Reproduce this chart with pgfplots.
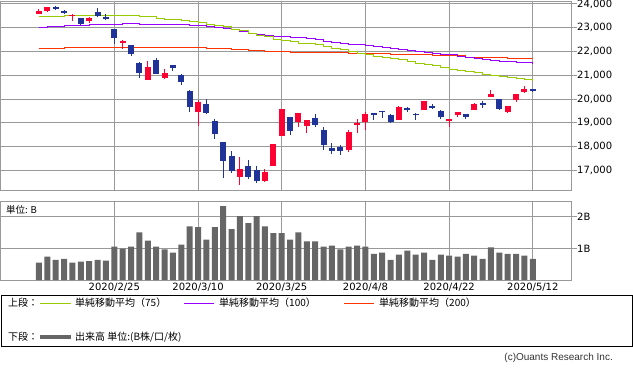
\documentclass[border=0pt]{standalone}
\usepackage{pgfplots}
\pgfplotsset{compat=1.18}
\usepackage{pgfplotstable}
\usepackage{fontspec}
\setmainfont{DejaVu Sans}
\newfontfamily\jp{Noto Sans CJK JP}
\newfontfamily\lib{Liberation Sans}
\definecolor{gridc}{HTML}{999999}
\definecolor{upred}{HTML}{FF0033}
\definecolor{dnblue}{HTML}{1F3399}
\definecolor{maG}{HTML}{99CC00}
\definecolor{maP}{HTML}{9900FF}
\definecolor{maR}{HTML}{FF3300}
\definecolor{volc}{HTML}{666666}

\pgfplotstableread{
i O H L C
0 23580 23790 23575 23700
1 23720 23875 23676 23870
4 23510 23590 23300 23550
6 23285 23455 23215 23410
10 22370 22500 22120 22455
13 20815 21600 20810 21335
15 20900 21265 20855 21085
19 19465 19960 18880 19875
24 16730 17560 16395 17055
27 16550 17055 16520 16945
28 17180 18110 17175 18105
29 18460 19580 18455 19575
31 19020 19415 18835 19410
32 18880 19120 18585 19115
37 17870 18695 17785 18600
38 18905 19160 18560 18980
39 19045 19445 18710 19370
43 19130 19705 19125 19650
46 19555 19920 19550 19915
49 19090 19160 18835 19160
50 19315 19455 19230 19455
52 19555 19845 19550 19805
54 20075 20395 20070 20225
56 19455 19720 19415 19720
57 19960 20210 19875 20210
58 20300 20560 20255 20420
}\up

\pgfplotstableread{
i O H L C
2 23885 23930 23760 23805
3 23690 23760 23580 23655
5 23410 23420 23130 23175
7 23665 23830 23440 23480
8 23455 23580 23340 23370
9 22950 22955 22330 22570
11 22275 22285 21825 21910
12 21505 21560 20900 21110
14 21645 21725 21065 21070
16 21420 21425 21195 21320
17 21010 21055 20605 20730
18 20340 20380 19465 19680
20 19790 20000 19385 19425
21 19075 19160 18330 18540
22 18190 18200 16690 17405
23 17605 17815 16885 16985
25 17180 17435 16650 16705
26 17015 17180 16480 16565
30 19245 19250 18485 18670
33 19200 19370 18825 18905
34 18700 18820 17855 18080
35 17940 18150 17700 17825
36 17980 18065 17655 17825
40 19415 19420 19130 19340
41 19500 19505 19215 19460
42 19330 19385 18990 19045
44 19620 19680 19455 19540
45 19370 19400 19120 19330
47 19720 19790 19580 19625
48 19495 19555 19175 19260
51 19370 19375 19175 19260
53 19820 19905 19625 19780
55 20000 20005 19540 19570
59 20420 20440 20310 20350
}\down

\pgfplotstableread{
i v
0 0.55
1 0.74
2 0.64
3 0.67
4 0.55
5 0.58
6 0.60
7 0.64
8 0.61
9 1.06
10 0.99
11 1.06
12 1.51
13 1.25
14 1.06
15 0.97
16 0.87
17 1.12
18 1.70
19 1.67
20 1.28
21 1.67
22 2.34
23 1.61
24 2.02
25 1.80
26 2.02
27 1.70
28 1.48
29 1.48
30 1.28
31 1.51
32 1.22
33 1.22
34 1.06
35 1.09
36 0.97
37 1.06
38 1.09
39 1.06
40 0.83
41 0.87
42 0.64
43 0.80
44 0.93
45 0.80
46 0.87
47 0.64
48 0.80
49 0.77
50 0.74
51 0.83
52 0.77
53 0.67
54 1.03
55 0.87
56 0.83
57 0.83
58 0.77
59 0.67
}\vol

\pgfplotsset{
  base/.style={
    scale only axis, width=570pt,
    xmin=-4.54, xmax=63.56,
    axis line style={draw=gridc, line width=1pt},
    grid=major, major grid style={draw=gridc, line width=1pt},
    xtick={9,19,29,39,49,59},
    xtick style={draw=none},
    ytick pos=right, yticklabel pos=right,
    ytick align=outside,
    ytick style={draw=gridc, line width=1pt},
    major tick length=6pt,
    tick label style={font=\fontsize{10}{12}\selectfont, text=black},
    yticklabel style={anchor=west, inner sep=0pt},
    /pgf/number format/assume math mode=true,
    clip=true,
  },
  candle/.style={only marks, mark=*, mark size=0pt, mark options={draw=none, fill=none},
    error bars/.cd, y dir=both, y explicit, error mark=none},
}

\begin{document}
\begin{tikzpicture}[x=1pt,y=1pt]
\useasboundingbox (0,0) rectangle (633,-372);

% ---------- price panel ----------
\begin{axis}[base, at={(1pt,-1pt)}, anchor=north west, height=189pt,
  ymin=16170, ymax=24126,
  ytick={17000,18000,...,24000},
  scaled y ticks=false,
  yticklabel style={/pgf/number format/.cd, 1000 sep={,}, assume math mode=true},
  xticklabels={\relax,\relax,\relax,\relax,\relax,\relax},
]
% moving averages
\addplot[const plot, draw=maR, line width=1pt] coordinates {
(0,22135) (3,22177) (20,22135) (23,22093) (25,22051) (27,22009) (30,21967)
(34,21938) (37,21896) (42,21853) (47,21811) (51,21756) (56,21714) (59,21714)};
\addplot[const plot, draw=maP, line width=1pt] coordinates {
(0,23019) (1,23061) (3,23103) (6,23146) (10,23188) (12,23146) (18,23103)
(19,23074) (20,23053) (21,23023) (22,22977) (23,22914) (24,22843) (25,22771)
(26,22716) (27,22670) (28,22645) (29,22624) (30,22598) (31,22569) (32,22527)
(33,22485) (34,22430) (35,22375) (36,22346) (37,22308) (38,22274) (39,22232)
(40,22190) (41,22148) (42,22106) (43,22064) (44,22022) (45,21980) (46,21950)
(47,21925) (48,21887) (49,21853) (50,21790) (51,21727) (52,21685) (53,21643)
(54,21618) (55,21588) (56,21563) (57,21538) (58,21525) (59,21517)};
\addplot[const plot, draw=maG, line width=1pt] coordinates {
(0,23453) (3,23495) (8,23524) (10,23495) (12,23453) (14,23398) (15,23356)
(17,23314) (18,23272) (19,23200) (20,23146) (21,23095) (22,23032) (23,22927)
(24,22864) (25,22779) (26,22674) (27,22611) (28,22514) (29,22464) (30,22422)
(31,22358) (32,22316) (33,22274) (34,22211) (35,22127) (36,22064) (37,21980)
(38,21917) (39,21875) (40,21790) (41,21748) (42,21706) (43,21643) (44,21559)
(45,21487) (46,21445) (47,21390) (48,21306) (49,21252) (50,21193) (51,21138)
(52,21096) (53,21041) (54,20999) (55,20957) (56,20898) (57,20864) (58,20831)
(59,20746)};
% wicks
\addplot[candle, error bar style={draw=upred, line width=1pt}]
  table[x=i, y expr={(\thisrow{H}+\thisrow{L})/2}, y error expr={(\thisrow{H}-\thisrow{L})/2}] {\up};
\addplot[candle, error bar style={draw=dnblue, line width=1pt}]
  table[x=i, y expr={(\thisrow{H}+\thisrow{L})/2}, y error expr={(\thisrow{H}-\thisrow{L})/2}] {\down};
% bodies
\addplot[candle, error bar style={draw=upred, line width=6pt, line cap=butt}]
  table[x=i, y expr={(\thisrow{O}+\thisrow{C})/2}, y error expr={max(abs(\thisrow{C}-\thisrow{O})/2,22)}] {\up};
\addplot[candle, error bar style={draw=dnblue, line width=6pt, line cap=butt}]
  table[x=i, y expr={(\thisrow{O}+\thisrow{C})/2}, y error expr={max(abs(\thisrow{C}-\thisrow{O})/2,22)}] {\down};
\end{axis}

% ---------- volume panel ----------
\begin{axis}[base, at={(1pt,-201pt)}, anchor=north west, height=79pt,
  ymin=0, ymax=2.5,
  ytick={1,2}, yticklabels={1B,2B},
  xticklabels={2020/2/25,2020/3/10,2020/3/25,2020/4/8,2020/4/22,2020/5/12},
  xticklabel style={anchor=north, inner sep=0pt, yshift=-3pt},
]
\addplot[ybar, bar width=6pt, fill=volc, draw=none] table[x=i, y=v] {\vol};
\end{axis}

\node[anchor=west, inner sep=0pt] at (6,-210) {\jp\fontsize{9.5}{11}\selectfont 単位: B};

% ---------- legend ----------
\draw[black, line width=1pt] (1,-295.5) rectangle (632,-346.5);
\begin{scope}[every node/.style={anchor=west, inner sep=0pt, font=\jp\fontsize{10}{12}\selectfont}]
\node at (8,-303) {上段：};
\draw[maG, line width=1pt] (40,-303) -- (71,-303);
\node at (75,-303) {単純移動平均（75）};
\draw[maP, line width=1pt] (184,-303) -- (214,-303);
\node at (219,-303) {単純移動平均（100）};
\draw[maR, line width=1pt] (344,-303) -- (374,-303);
\node at (379,-303) {単純移動平均（200）};
\node at (8,-337) {下段：};
\draw[volc, line width=4pt] (40,-337) -- (71,-337);
\node at (75,-337) {出来高 単位:(B株/口/枚)};
\end{scope}
\node[anchor=east, inner sep=0pt, text=black!80] at (613,-358) {\lib\fontsize{10}{12}\selectfont (c)Ouants Research Inc.};
\end{tikzpicture}
\end{document}
